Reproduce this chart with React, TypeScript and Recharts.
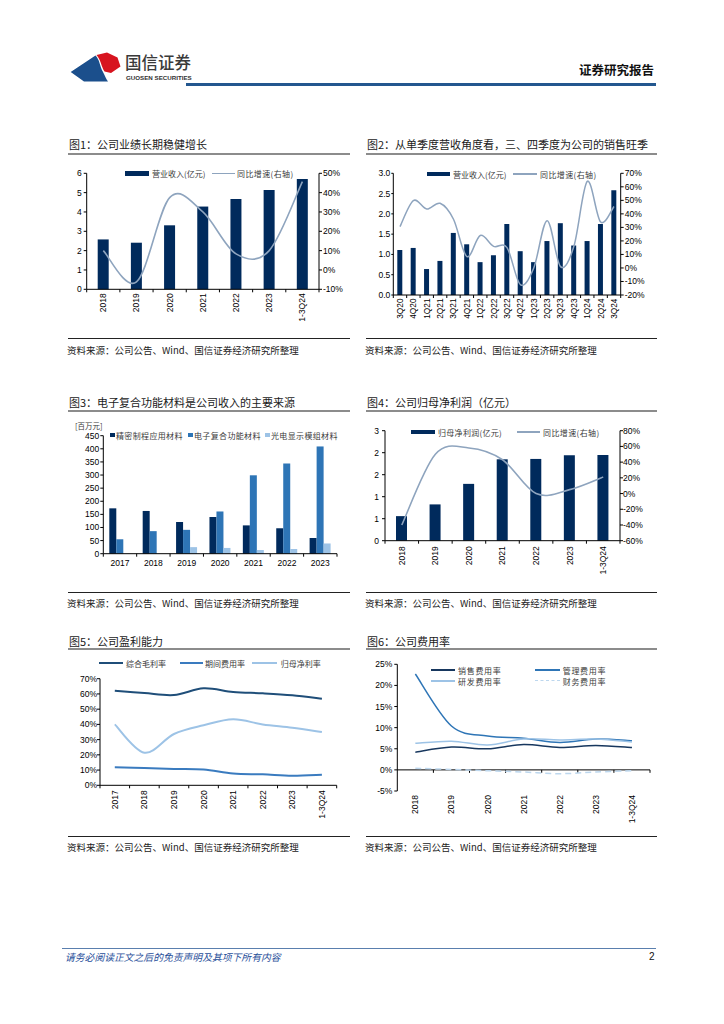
import React from 'react';
import { ComposedChart, Bar, Line, XAxis, YAxis, ReferenceLine } from 'recharts';

// ---------------- DATA ----------------
const years1 = ['2018', '2019', '2020', '2021', '2022', '2023', '1-3Q24'];
const revenue = [2.58, 2.41, 3.31, 4.28, 4.67, 5.14, 5.71];
const revenueYoY = [10.0, -6.2, 37.4, 30.0, 8.3, 10.0, 45.7];
const ticks1L = [0, 1, 2, 3, 4, 5, 6];
const ticks1R = [-10, 0, 10, 20, 30, 40, 50];

const quarters = ['3Q20', '4Q20', '1Q21', '2Q21', '3Q21', '4Q21', '1Q22', '2Q22', '3Q22', '4Q22', '1Q23', '2Q23', '3Q23', '4Q23', '1Q24', '2Q24', '3Q24'];
const qRevenue = [1.11, 1.16, 0.64, 0.84, 1.53, 1.25, 0.81, 0.98, 1.75, 1.08, 0.81, 1.33, 1.77, 1.22, 1.33, 1.75, 2.58];
const qYoY = [30.5, 49.8, 43.6, 47.8, 36.0, 8.4, 24.0, 16.0, 15.0, -12.3, 0.0, 35.0, 1.0, 16.0, 64.0, 34.0, 45.5];
const ticks2L = [0, 0.5, 1, 1.5, 2, 2.5, 3];
const ticks2R = [-20, -10, 0, 10, 20, 30, 40, 50, 60, 70];

const years3 = ['2017', '2018', '2019', '2020', '2021', '2022', '2023'];
const precision = [173, 163, 121, 140, 108, 97, 60];
const electronic = [55, 86, 91, 161, 299, 344, 409];
const optical = [0, 0, 25, 22, 14, 18, 39];
const ticks3 = [0, 50, 100, 150, 200, 250, 300, 350, 400, 450];

const years4 = ['2018', '2019', '2020', '2021', '2022', '2023', '1-3Q24'];
const netProfit = [0.67, 0.99, 1.55, 2.22, 2.23, 2.33, 2.34];
const netProfitYoY = [-40, 50, 58, 43, 0, 5, 21];
const ticks4L = [0, 0.6, 1.2, 1.8, 2.4, 3];
const ticks4R = [-60, -40, -20, 0, 20, 40, 60, 80];

const years5 = ['2017', '2018', '2019', '2020', '2021', '2022', '2023', '1-3Q24'];
const grossMargin = [62.1, 60.6, 59.3, 63.7, 61.3, 60.4, 59.1, 56.9];
const expenseRatio = [11.8, 11.4, 10.7, 10.3, 7.7, 7.2, 6.3, 7.0];
const netMargin = [40.0, 21.4, 33.7, 39.4, 43.3, 40.0, 37.8, 35.0];
const ticks5 = [0, 10, 20, 30, 40, 50, 60, 70];

const years6 = ['2018', '2019', '2020', '2021', '2022', '2023', '1-3Q24'];
const salesRatio = [4.2, 5.4, 5.0, 6.0, 5.3, 5.8, 5.3];
const mgmtRatio = [22.7, 10.4, 8.0, 7.5, 6.5, 7.3, 6.9];
const rdRatio = [6.3, 6.8, 5.9, 7.3, 7.1, 7.3, 6.6];
const finRatio = [0.4, 0.1, -0.2, -0.5, -0.9, -0.5, -0.2];
const ticks6 = [-5, 0, 5, 10, 15, 20, 25];

const data1 = years1.map((c, i) => ({ cat: c, rev: revenue[i], yoy: revenueYoY[i] }));
const data2 = quarters.map((c, i) => ({ cat: c, rev: qRevenue[i], yoy: qYoY[i] }));
const data3 = years3.map((c, i) => ({ cat: c, a: precision[i], b: electronic[i], c: optical[i] }));
const data4 = years4.map((c, i) => ({ cat: c, np: netProfit[i], yoy: netProfitYoY[i] }));
const data5 = years5.map((c, i) => ({ cat: c, g: grossMargin[i], e: expenseRatio[i], n: netMargin[i] }));
const data6 = years6.map((c, i) => ({ cat: c, s: salesRatio[i], m: mgmtRatio[i], r: rdRatio[i], f: finRatio[i] }));

// ---------------- STYLE ----------------
const CJK = '"Noto Sans CJK SC", "Noto Sans", sans-serif';
const AX = '"Liberation Sans", Arial, sans-serif';
const NAVY = '#002a5c';
const GREYBLUE = '#8ea4be';
const MID = '#2e75b6';
const LIGHT = '#9dc3e6';

// Excel-like smooth curve (Catmull-Rom as cubic Bezier)
const smoothCurve: any = (context: any) => {
  let pts: number[][] = [];
  return {
    areaStart() {},
    areaEnd() {},
    lineStart() {
      pts = [];
    },
    point(x: number, y: number) {
      pts.push([+x, +y]);
    },
    lineEnd() {
      const n = pts.length;
      if (!n) return;
      context.moveTo(pts[0][0], pts[0][1]);
      for (let i = 0; i < n - 1; i++) {
        const p0 = pts[Math.max(i - 1, 0)];
        const p1 = pts[i];
        const p2 = pts[i + 1];
        const p3 = pts[Math.min(i + 2, n - 1)];
        context.bezierCurveTo(
          p1[0] + (p2[0] - p0[0]) / 6,
          p1[1] + (p2[1] - p0[1]) / 6,
          p2[0] - (p3[0] - p1[0]) / 6,
          p2[1] - (p3[1] - p1[1]) / 6,
          p2[0],
          p2[1]
        );
      }
    },
  };
};

function BandTick(props: any) {
  const { x, y, payload, index, bw, cnt, rot, gapY, fs, mk } = props;
  const half = bw / 2;
  const ty = y + gapY;
  return (
    <g>
      {mk ? <line x1={x - half} y1={y} x2={x - half} y2={y + 3} stroke="#000" strokeWidth={1} /> : null}
      {mk && index === cnt - 1 ? <line x1={x + half} y1={y} x2={x + half} y2={y + 3} stroke="#000" strokeWidth={1} /> : null}
      {rot ? (
        <text x={x} y={ty} transform={`rotate(-90, ${x}, ${ty})`} textAnchor="end" dy="0.35em" fontSize={fs} fontFamily={AX} fill="#000">
          {payload.value}
        </text>
      ) : (
        <text x={x} y={ty} textAnchor="middle" dy="0.75em" fontSize={fs} fontFamily={AX} fill="#000">
          {payload.value}
        </text>
      )}
    </g>
  );
}

const yTick = { fontSize: 8.5, fill: '#000', fontFamily: AX };
const axisLine = { stroke: '#000', strokeWidth: 1 };

// ---------------- LAYOUT HELPERS ----------------
function Txt(props: { x: number; y: number; size: number; children: any; color?: string; weight?: any; family?: string; spacing?: number; italic?: boolean }) {
  const lh = Math.round(props.size * 1.4);
  return (
    <div
      style={{
        position: 'absolute',
        left: props.x,
        top: props.y - lh / 2,
        height: lh,
        lineHeight: lh + 'px',
        fontSize: props.size,
        color: props.color || '#222',
        fontWeight: props.weight || 'normal',
        fontFamily: props.family || CJK,
        letterSpacing: props.spacing || 0,
        fontStyle: props.italic ? 'italic' : 'normal',
        whiteSpace: 'nowrap',
      }}
    >
      {props.children}
    </div>
  );
}

function HLine(props: { x1: number; x2: number; y: number; h: number; color: string; dash?: boolean }) {
  return (
    <div
      style={{
        position: 'absolute',
        left: props.x1,
        top: props.y - props.h / 2,
        width: props.x2 - props.x1,
        height: props.dash ? 0 : props.h,
        background: props.dash ? 'transparent' : props.color,
        borderTop: props.dash ? `${props.h}px dashed ${props.color}` : undefined,
      }}
    />
  );
}

function Box(props: { x: number; y: number; w: number; h: number; color: string }) {
  return <div style={{ position: 'absolute', left: props.x, top: props.y - props.h / 2, width: props.w, height: props.h, background: props.color }} />;
}

const SRC = '资料来源：公司公告、Wind、国信证券经济研究所整理';

function Frame(props: { x1: number; x2: number; title: string; titleY: number; ulY: number; srcY: number; srcTextY: number }) {
  return (
    <>
      <Txt x={props.x1 + 1} y={props.titleY} size={11} color="#1a1a1a">
        {props.title}
      </Txt>
      <HLine x1={props.x1} x2={props.x2} y={props.ulY} h={2} color="#8c8c8c" />
      <HLine x1={props.x1} x2={props.x2} y={props.srcY} h={1} color="#222" />
      <Txt x={props.x1 - 1} y={props.srcTextY} size={9.5} color="#222">
        {SRC}
      </Txt>
    </>
  );
}

// ---------------- CHARTS ----------------
function Chart1() {
  return (
    <div style={{ position: 'absolute', left: 60, top: 160 }}>
      <ComposedChart width={300} height={180} data={data1} margin={{ top: 13.3, right: 11, bottom: 0, left: 0 }}>
        <XAxis dataKey="cat" scale="band" interval={0} axisLine={axisLine} tickLine={false} tickSize={0} tickMargin={0} height={50.7} tick={<BandTick bw={33.19} cnt={7} rot gapY={4} fs={8.5} mk />} />
        <YAxis yAxisId="l" domain={[0, 6]} ticks={ticks1L} interval={0} width={26.7} tick={yTick} tickSize={3} tickMargin={2} axisLine={axisLine} tickLine={axisLine} />
        <YAxis yAxisId="r" orientation="right" domain={[-10, 50]} ticks={ticks1R} interval={0} width={30} tick={yTick} tickSize={3} tickMargin={1} axisLine={axisLine} tickLine={axisLine} tickFormatter={(v: number) => v + '%'} />
        <Bar yAxisId="l" dataKey="rev" fill={NAVY} barSize={11} isAnimationActive={false} />
        <Line yAxisId="r" dataKey="yoy" stroke={GREYBLUE} strokeWidth={1.6} dot={false} type={smoothCurve} isAnimationActive={false} />
      </ComposedChart>
    </div>
  );
}

function Chart2() {
  return (
    <div style={{ position: 'absolute', left: 360, top: 160 }}>
      <ComposedChart width={300} height={180} data={data2} margin={{ top: 13.3, right: 9.3, bottom: 0, left: 0 }}>
        <XAxis dataKey="cat" scale="band" interval={0} axisLine={axisLine} tickLine={false} tickSize={0} tickMargin={0} height={45} tick={<BandTick bw={13.38} cnt={17} rot gapY={3.5} fs={8.3} mk />} />
        <YAxis yAxisId="l" domain={[0, 3]} ticks={ticks2L} interval={0} width={33.3} tick={yTick} tickSize={2} tickMargin={1} axisLine={axisLine} tickLine={axisLine} tickFormatter={(v: number) => v.toFixed(1)} />
        <YAxis yAxisId="r" orientation="right" domain={[-20, 70]} ticks={ticks2R} interval={0} width={30} tick={yTick} tickSize={3} tickMargin={1} axisLine={axisLine} tickLine={axisLine} tickFormatter={(v: number) => v + '%'} />
        <Bar yAxisId="l" dataKey="rev" fill={NAVY} barSize={5} isAnimationActive={false} />
        <Line yAxisId="r" dataKey="yoy" stroke={GREYBLUE} strokeWidth={1.5} dot={false} type={smoothCurve} isAnimationActive={false} />
      </ComposedChart>
    </div>
  );
}

function Chart3() {
  return (
    <div style={{ position: 'absolute', left: 60, top: 420 }}>
      <ComposedChart width={300} height={160} data={data3} margin={{ top: 15.7, right: 23, bottom: 0, left: 0 }} barGap={0}>
        <XAxis dataKey="cat" scale="band" interval={0} axisLine={axisLine} tickLine={false} tickSize={0} tickMargin={0} height={26.3} tick={<BandTick bw={33.39} cnt={7} gapY={6} fs={8.5} mk />} />
        <YAxis domain={[0, 450]} ticks={ticks3} interval={0} width={43.3} tick={yTick} tickSize={3} tickMargin={1} axisLine={axisLine} tickLine={axisLine} />
        <Bar dataKey="a" fill={NAVY} barSize={7} isAnimationActive={false} />
        <Bar dataKey="b" fill={MID} barSize={7} isAnimationActive={false} />
        <Bar dataKey="c" fill={LIGHT} barSize={7} isAnimationActive={false} />
      </ComposedChart>
    </div>
  );
}

function Chart4() {
  return (
    <div style={{ position: 'absolute', left: 360, top: 420 }}>
      <ComposedChart width={300} height={170} data={data4} margin={{ top: 10.7, right: 10, bottom: 0, left: 0 }}>
        <XAxis dataKey="cat" scale="band" interval={0} axisLine={axisLine} tickLine={false} tickSize={0} tickMargin={0} height={49.3} tick={<BandTick bw={33.57} cnt={7} rot gapY={5.5} fs={8.5} mk />} />
        <YAxis yAxisId="l" domain={[0, 3]} ticks={ticks4L} interval={0} width={25} tick={yTick} tickSize={3} tickMargin={3} axisLine={axisLine} tickLine={axisLine} tickFormatter={(v: number) => String(Math.round(v))} />
        <YAxis yAxisId="r" orientation="right" domain={[-60, 80]} ticks={ticks4R} interval={0} width={30} tick={yTick} tickSize={3} tickMargin={0} axisLine={axisLine} tickLine={axisLine} tickFormatter={(v: number) => v + '%'} />
        <Bar yAxisId="l" dataKey="np" fill={NAVY} barSize={11} isAnimationActive={false} />
        <Line yAxisId="r" dataKey="yoy" stroke={GREYBLUE} strokeWidth={1.6} dot={false} type={smoothCurve} isAnimationActive={false} />
      </ComposedChart>
    </div>
  );
}

function Chart5() {
  return (
    <div style={{ position: 'absolute', left: 60, top: 665 }}>
      <ComposedChart width={300} height={170} data={data5} margin={{ top: 13.7, right: 23.3, bottom: 0, left: 0 }}>
        <XAxis dataKey="cat" scale="band" interval={0} axisLine={axisLine} tickLine={false} tickSize={0} tickMargin={0} height={49.7} tick={<BandTick bw={29.59} cnt={8} rot gapY={5} fs={8.5} mk />} />
        <YAxis domain={[0, 70]} ticks={ticks5} interval={0} width={40} tick={yTick} tickSize={3} tickMargin={0} axisLine={axisLine} tickLine={axisLine} tickFormatter={(v: number) => v + '%'} />
        <Line dataKey="g" stroke="#1f4e79" strokeWidth={2} dot={false} type={smoothCurve} isAnimationActive={false} />
        <Line dataKey="e" stroke="#3a7bbf" strokeWidth={2} dot={false} type={smoothCurve} isAnimationActive={false} />
        <Line dataKey="n" stroke={LIGHT} strokeWidth={2} dot={false} type={smoothCurve} isAnimationActive={false} />
      </ComposedChart>
    </div>
  );
}

function Chart6() {
  const last = years6[years6.length - 1];
  return (
    <div style={{ position: 'absolute', left: 360, top: 655 }}>
      <ComposedChart width={300} height={180} data={data6} margin={{ top: 9.3, right: 10, bottom: 0, left: 0 }}>
        <XAxis dataKey="cat" scale="band" interval={0} axisLine={false} tickLine={false} tickSize={0} tickMargin={0} height={44} tick={<BandTick bw={36.1} cnt={7} rot gapY={4} fs={8.5} />} />
        <YAxis domain={[-5, 25]} ticks={ticks6} interval={0} width={37.3} tick={yTick} tickSize={3} tickMargin={2} axisLine={axisLine} tickLine={axisLine} tickFormatter={(v: number) => v + '%'} />
        <ReferenceLine y={0} stroke="#000" strokeWidth={1} />
        {years6.map((c) => (
          <ReferenceLine key={'t' + c} segment={[{ x: c, y: 0 }, { x: c, y: -0.7 }]} position="start" stroke="#000" strokeWidth={1} />
        ))}
        <ReferenceLine segment={[{ x: last, y: 0 }, { x: last, y: -0.7 }]} position="end" stroke="#000" strokeWidth={1} />
        <Line dataKey="s" stroke="#17375e" strokeWidth={1.5} dot={false} type={smoothCurve} isAnimationActive={false} />
        <Line dataKey="m" stroke={MID} strokeWidth={1.5} dot={false} type={smoothCurve} isAnimationActive={false} />
        <Line dataKey="r" stroke={LIGHT} strokeWidth={1.5} dot={false} type={smoothCurve} isAnimationActive={false} />
        <Line dataKey="f" stroke="#bdd7ee" strokeWidth={1.5} strokeDasharray="6 4" dot={false} type={smoothCurve} isAnimationActive={false} />
      </ComposedChart>
    </div>
  );
}

// ---------------- PAGE ----------------
export default function App() {
  const LG = 8;
  const lc = '#3a3a3a';
  return (
    <div style={{ position: 'absolute', left: 0, top: 0, width: 724, height: 1024, background: '#fff', overflow: 'hidden', fontFamily: CJK }}>
      {/* header */}
      <svg style={{ position: 'absolute', left: 0, top: 0 }} width={130} height={90}>
        <path d="M70.7,72 L95.5,55.5 C100,60 99.5,66 103,72 C105,76 106,79 108,81.5 L84,81.5 Z" fill="#1b4f8c" />
        <path d="M96.5,55 L107,52.5 L117.5,57.5 L120.5,66.5 L111,73 L104.5,71.5 C101,66 101,60 96.5,55 Z" fill="#d7141f" />
      </svg>
      <Txt x={125} y={62} size={16.5} color="#3a3a3a" weight={500}>
        国信证券
      </Txt>
      <Txt x={126} y={77.5} size={6.2} color="#333" weight="bold" family={AX}>
        GUOSEN SECURITIES
      </Txt>
      <Txt x={579} y={70} size={12.5} color="#111" weight="bold">
        证券研究报告
      </Txt>
      <HLine x1={186} x2={656} y={84.5} h={2.5} color="#23578f" />

      {/* frames */}
      <Frame x1={68} x2={350} title="图1：公司业绩长期稳健增长" titleY={144} ulY={153.5} srcY={338.5} srcTextY={350.5} />
      <Frame x1={366} x2={657} title="图2：从单季度营收角度看，三、四季度为公司的销售旺季" titleY={144} ulY={153.5} srcY={338.5} srcTextY={350.5} />
      <Frame x1={68} x2={350} title="图3：电子复合功能材料是公司收入的主要来源" titleY={402.5} ulY={411} srcY={592} srcTextY={603} />
      <Frame x1={366} x2={657} title="图4：公司归母净利润（亿元）" titleY={402.5} ulY={411} srcY={592} srcTextY={603} />
      <Frame x1={68} x2={350} title="图5：公司盈利能力" titleY={641} ulY={649} srcY={836} srcTextY={847} />
      <Frame x1={366} x2={657} title="图6：公司费用率" titleY={641} ulY={649} srcY={836} srcTextY={847} />

      <Chart1 />
      <Chart2 />
      <Chart3 />
      <Chart4 />
      <Chart5 />
      <Chart6 />

      {/* legends chart 1 */}
      <Box x={125} y={173.7} w={24} h={4.5} color={NAVY} />
      <Txt x={152} y={173.7} size={LG} color={lc}>营业收入(亿元)</Txt>
      <HLine x1={211.7} x2={235} y={173.7} h={1.5} color={GREYBLUE} />
      <Txt x={237} y={173.7} size={LG} color={lc} spacing={0.4}>同比增速(右轴)</Txt>

      {/* legends chart 2 */}
      <Box x={426.7} y={174} w={23} h={4.5} color={NAVY} />
      <Txt x={453} y={174} size={LG} color={lc}>营业收入(亿元)</Txt>
      <HLine x1={512.7} x2={536.7} y={174} h={1.5} color={GREYBLUE} />
      <Txt x={540} y={174} size={LG} color={lc} spacing={0.4}>同比增速(右轴)</Txt>

      {/* chart 3 unit + legend */}
      <Txt x={75} y={425} size={7.5} color={lc}>[百万元]</Txt>
      <Box x={110} y={435} w={4.5} h={4.5} color={NAVY} />
      <Txt x={116} y={435} size={LG} color={lc} spacing={0.35}>精密制程应用材料</Txt>
      <Box x={188.3} y={435} w={4.5} h={4.5} color={MID} />
      <Txt x={194} y={435} size={LG} color={lc} spacing={0.35}>电子复合功能材料</Txt>
      <Box x={265} y={435} w={4.5} h={4.5} color={LIGHT} />
      <Txt x={271} y={435} size={LG} color={lc} spacing={0.35}>光电显示模组材料</Txt>

      {/* legends chart 4 */}
      <Box x={410.7} y={432} w={24.3} h={4.5} color={NAVY} />
      <Txt x={438} y={432} size={LG} color={lc} spacing={0.3}>归母净利润(亿元)</Txt>
      <HLine x1={516.7} x2={540} y={432} h={1.5} color={GREYBLUE} />
      <Txt x={543} y={432} size={LG} color={lc} spacing={0.4}>同比增速(右轴)</Txt>

      {/* legends chart 5 */}
      <HLine x1={99.3} x2={123.3} y={663.3} h={2} color="#1f4e79" />
      <Txt x={126} y={663.3} size={LG} color={lc}>综合毛利率</Txt>
      <HLine x1={180} x2={203.3} y={663.3} h={2} color="#3a7bbf" />
      <Txt x={205} y={663.3} size={LG} color={lc}>期间费用率</Txt>
      <HLine x1={251.7} x2={276.7} y={663.3} h={2} color={LIGHT} />
      <Txt x={280.7} y={663.3} size={LG} color={lc}>归母净利率</Txt>

      {/* legends chart 6 */}
      <HLine x1={430.7} x2={455} y={670} h={1.5} color="#17375e" />
      <Txt x={458} y={670} size={LG} color={lc} spacing={0.7}>销售费用率</Txt>
      <HLine x1={535} x2={560} y={670} h={1.5} color={MID} />
      <Txt x={562.7} y={670} size={LG} color={lc} spacing={0.7}>管理费用率</Txt>
      <HLine x1={430.7} x2={455} y={681} h={1.5} color={LIGHT} />
      <Txt x={458} y={681} size={LG} color={lc} spacing={0.7}>研发费用率</Txt>
      <HLine x1={535} x2={560} y={681} h={1.5} color="#bdd7ee" dash />
      <Txt x={562.7} y={681} size={LG} color={lc} spacing={0.7}>财务费用率</Txt>

      {/* footer */}
      <HLine x1={62} x2={656} y={948} h={1} color="#5a7fae" />
      <Txt x={65} y={956.5} size={9.8} color="#1f4e99" italic>
        请务必阅读正文之后的免责声明及其项下所有内容
      </Txt>
      <Txt x={649} y={957} size={10} color="#111" family={AX}>
        2
      </Txt>
    </div>
  );
}
